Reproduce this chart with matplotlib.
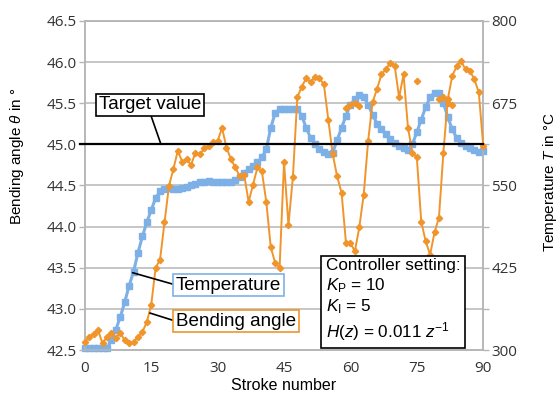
import numpy as np
import matplotlib
matplotlib.use("Agg")
import matplotlib.pyplot as plt

plt.rcParams['font.family'] = ['Liberation Sans', 'DejaVu Sans']
plt.rcParams['mathtext.fontset'] = 'custom'
plt.rcParams['mathtext.rm'] = 'Liberation Sans'
plt.rcParams['mathtext.it'] = 'Liberation Sans:italic'

strokes = np.arange(0, 91)

# bending angle in degrees, one value per stroke
bending = [42.60, 42.66, 42.70, 42.74, 42.58, 42.66, 42.71, 42.65, 42.71, 42.62,
           42.58, 42.60, 42.66, 42.72, 42.84, 43.05, 43.50, 43.60, 44.05, 44.49,
           44.70, 44.92, 44.79, 44.82, 44.75, 44.90, 44.88, 44.95, 44.98, 45.03,
           45.04, 45.20, 44.96, 44.82, 44.72, 44.61, 44.63, 44.30, 44.51, 44.72,
           44.67, 44.30, 43.75, 43.56, 43.50, 44.78, 44.02, 44.60, 45.57, 45.70,
           45.80, 45.76, 45.82, 45.80, 45.73, 45.30, 44.88, 44.61, 44.41, 43.80,
           43.80, 43.70, 43.99, 44.39, 45.04, 45.51, 45.67, 45.85, 45.91, 45.99,
           45.95, 45.57, 45.85, 45.20, 44.90, 44.84, 44.06, 43.82, 43.66, 43.93,
           44.11, 44.90, 45.55, 45.83, 45.95, 46.01, 45.91, 45.89, 45.79, 45.63,
           44.98]

# loose bending angle points (not joined to the main curve)
extra_strokes = [59, 60, 61, 62, 75, 80, 81, 82, 83]
extra_bending = [45.44, 45.48, 45.50, 45.47, 45.77, 45.55, 45.57, 45.50, 45.48]
extra_groups = [(0, 4), (4, 5), (5, 9)]

# temperature in degC
temperature = [302.5, 302.5, 302.5, 302.5, 302.5, 302.5, 315, 331, 350, 372.5,
               397.5, 419, 447.5, 472.5, 494, 512.5, 531, 541, 545, 546,
               545, 545, 546, 547.5, 550, 552.5, 555, 556, 557.5, 556,
               556, 555, 555, 556, 559, 562.5, 569, 575, 580, 585,
               592.5, 605, 637.5, 660, 666, 666, 666, 666, 666, 656,
               637.5, 622.5, 612.5, 606, 601, 597.5, 600, 619, 637.5, 656,
               672.5, 681, 687.5, 685, 672.5, 657.5, 644, 635, 627.5, 621,
               615, 610, 607.5, 604, 612.5, 631, 650, 669, 684, 691,
               690, 675, 654, 635, 622.5, 615, 610, 607.5, 604, 601,
               602.5]

target = 45.0
x_ticks = [0, 15, 30, 45, 60, 75, 90]
left_ticks = [42.5, 43.0, 43.5, 44.0, 44.5, 45.0, 45.5, 46.0, 46.5]
right_ticks = [300, 425, 550, 675, 800]

blue = '#7eb0e8'
orange = '#f0952c'
gridc = '#b6b6b6'

fig = plt.figure(figsize=(5.58, 4.01), dpi=100)
ax = fig.add_axes([0.152, 0.127, 0.714, 0.821])
ax2 = ax.twinx()
ax.set_zorder(2)
ax.patch.set_visible(False)

# temperature on the right axis (drawn underneath)
ax2.plot(strokes, temperature, color=blue, lw=2.2, marker='s', ms=4.3,
         mec=blue, mfc=blue, clip_on=False, zorder=3)
ax2.set_ylim(300, 800)
rt = np.arange(300, 801, 62.5)
ax2.set_yticks(rt)
ax2.set_yticklabels([str(int(t)) if t in right_ticks else '' for t in rt],
                    fontfamily='Open Sans', fontsize=11)
ax2.grid(True, color=gridc, lw=1.1)
ax2.set_axisbelow(True)
ax2.set_ylabel(r'Temperature $T$ in °C', fontsize=11)
ax2.yaxis.set_label_coords(1.145, 0.51)

# bending angle on the left axis
ax.plot(strokes, bending, color=orange, lw=1.4, marker='D', ms=3.2,
        mec=orange, mfc=orange, clip_on=False, zorder=4)
for a, b in extra_groups:
    ax.plot(extra_strokes[a:b], extra_bending[a:b], color=orange, lw=1.4,
            marker='D', ms=3.2, mec=orange, mfc=orange, zorder=4)
ax.plot([-1.2, 90], [target, target], color='black', lw=1.6, clip_on=False, zorder=5)

ax.set_xlim(0, 90)
ax.set_ylim(42.5, 46.5)
ax.set_xticks(x_ticks)
ax.set_yticks(left_ticks)
ax.set_yticklabels(['%.1f' % v for v in left_ticks], fontfamily='Open Sans', fontsize=11)
ax.set_xticklabels([str(v) for v in x_ticks], fontfamily='Open Sans', fontsize=11)
ax.set_xlabel('Stroke number', fontsize=11.5, labelpad=1)
ax.set_ylabel(r'Bending angle $\theta$ in °', fontsize=11)
ax.yaxis.set_label_coords(-0.148, 0.588)

for a_ in (ax, ax2):
    for sp in a_.spines.values():
        sp.set_color(gridc)
        sp.set_linewidth(1.1)
    a_.tick_params(colors='#333333', length=4, width=1, pad=2)
    a_.tick_params(axis='both', which='both', color=gridc)
ax.tick_params(axis='x', length=0, pad=8)

# callouts
fs_box = 13.6
box_k = dict(boxstyle='square,pad=0.14', fc='white', ec='black', lw=1.2)
ax.annotate('Target value', xy=(17.2, target), xytext=(3.2, 45.48),
            fontsize=fs_box, va='center', ha='left', bbox=box_k,
            arrowprops=dict(arrowstyle='-', color='black', lw=1.2,
                            shrinkA=0, shrinkB=0, relpos=(0.5, 0.0)), zorder=6)

box_b = dict(boxstyle='square,pad=0.14', fc='white', ec=blue, lw=1.2)
ax.annotate('Temperature', xy=(10.8, 43.44), xytext=(20.6, 43.29),
            fontsize=fs_box, va='center', ha='left', bbox=box_b,
            arrowprops=dict(arrowstyle='-', color='black', lw=1.2,
                            shrinkA=0, shrinkB=0, relpos=(0.0, 0.5)), zorder=6)

box_o = dict(boxstyle='square,pad=0.14', fc='white', ec=orange, lw=1.2)
ax.annotate('Bending angle', xy=(14.7, 42.95), xytext=(20.6, 42.85),
            fontsize=fs_box, va='center', ha='left', bbox=box_o,
            arrowprops=dict(arrowstyle='-', color='black', lw=1.2,
                            shrinkA=0, shrinkB=0, relpos=(0.0, 0.5)), zorder=6)

ctrl = ('Controller setting:\n'
        r'$K_\mathrm{P}$ = 10' '\n'
        r'$K_\mathrm{I}$ = 5' '\n'
        r'$H(z)$ = 0.011 $z^{-1}$')
ax.text(54.4, 42.585, ctrl, fontsize=12.3, va='bottom', ha='left', linespacing=1.22,
        bbox=dict(boxstyle='square,pad=0.28', fc='white', ec='black', lw=1.2), zorder=6)

fig.savefig('out.png', dpi=100)
